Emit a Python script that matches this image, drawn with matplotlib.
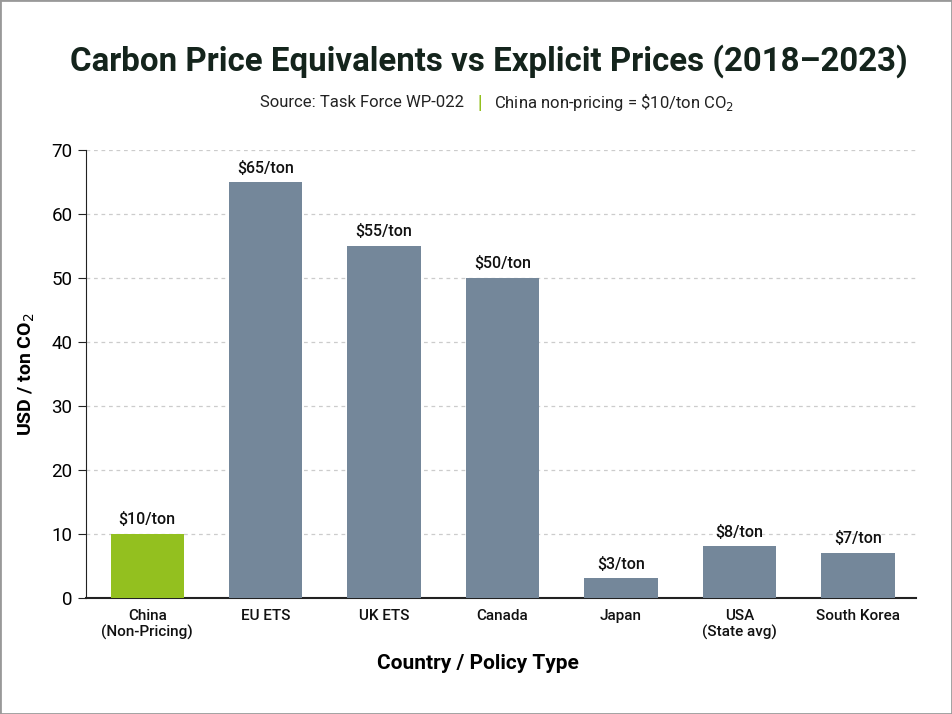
import numpy as np
import matplotlib.pyplot as plt

countries = ["China\n(Non-Pricing)", "EU ETS", "UK ETS", "Canada", "Japan", "USA\n(State avg)", "South Korea"]
prices = [10, 65, 55, 50, 3, 8, 7]
price_labels = ["\\$10/ton", "\\$65/ton", "\\$55/ton", "\\$50/ton", "\\$3/ton", "\\$8/ton", "\\$7/ton"]
yticks = [0, 10, 20, 30, 40, 50, 60, 70]

plt.rcParams['font.family'] = ['Roboto', 'DejaVu Sans']

grey = '#74879a'
green = '#93c01f'
colors = [green] + [grey] * (len(countries) - 1)

fig = plt.figure(figsize=(9.52, 7.14), dpi=100)
ax = fig.add_axes([0.090, 0.163, 0.872, 0.627])

x = np.arange(len(countries))
bars = ax.bar(x, prices, width=0.62, color=colors, zorder=3)

for b, lab in zip(bars, price_labels):
    ax.text(b.get_x() + b.get_width() / 2, b.get_height() + 1.0, lab,
            ha='center', va='bottom', fontsize=11.5, fontweight='medium', color='#111111', zorder=4)

ax.set_xlim(-0.52, 6.49)
ax.set_ylim(0, 70)
ax.set_yticks(yticks)
ax.set_xticks(x)
ax.set_xticklabels(countries, fontsize=11, color='#111111', fontweight='medium')
ax.tick_params(axis='y', labelsize=13.5, length=6, color='#222222')
ax.tick_params(axis='x', length=0, pad=8)

for v in yticks[1:]:
    ax.axhline(v, color='#cccccc', linestyle=(0, (3, 3)), linewidth=0.9, zorder=1)

for s in ['top', 'right']:
    ax.spines[s].set_visible(False)
ax.spines['left'].set_color('#222222')
ax.spines['bottom'].set_color('#222222')
ax.spines['bottom'].set_linewidth(1.5)

ax.set_ylabel("USD / ton CO$_2$", fontsize=14, fontweight='bold', labelpad=10)
ax.set_xlabel("Country / Policy Type", fontsize=15, fontweight='bold')
ax.xaxis.set_label_coords(0.472, -0.127)

fig.text(0.513, 0.915, "Carbon Price Equivalents vs Explicit Prices (2018\u20132023)",
         ha='center', va='center', fontsize=23.8, fontweight='bold', color='#14241c')

fig.text(0.487, 0.856, "Source: Task Force WP-022", ha='right', va='center', fontsize=12, color='#222222')
fig.text(0.504, 0.856, "|", ha='center', va='center', fontsize=13, color=green, fontweight='bold')
fig.text(0.519, 0.856, "China non-pricing = \\$10/ton CO$_2$", ha='left', va='center', fontsize=12, color='#222222')

fig.patches.append(plt.Rectangle((0, 0), 1, 1, transform=fig.transFigure, fill=False,
                                 edgecolor='#999999', linewidth=2))

fig.savefig("out.png", dpi=100)
